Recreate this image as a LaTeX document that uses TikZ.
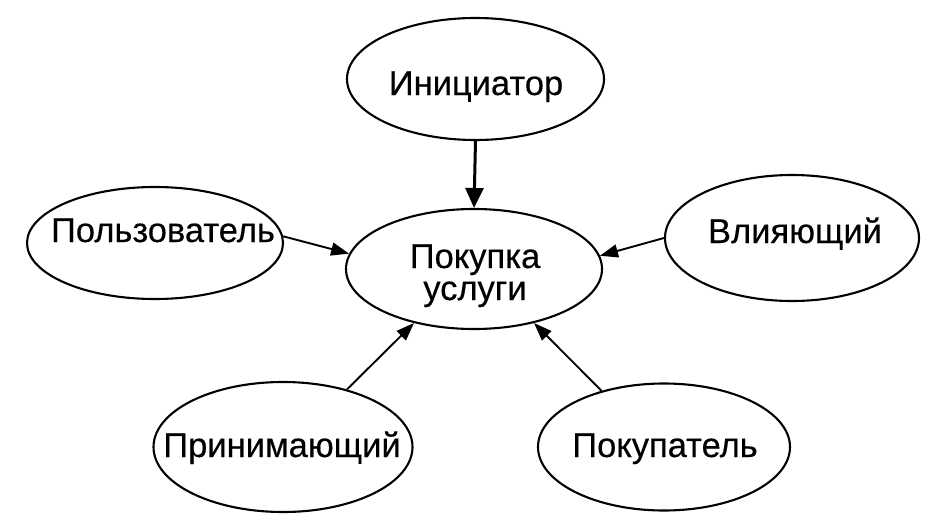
\documentclass[tikz,border=0pt]{standalone}
\usepackage{fontspec}
\setmainfont{Liberation Sans}[FakeBold=0.35]
\usetikzlibrary{shapes.geometric,arrows.meta}
\begin{document}
\begin{tikzpicture}[x=1pt,y=-1pt,
  oval/.style={ellipse,draw,line width=2.1pt,inner sep=0pt},
  lbl/.style={font=\fontsize{34.5}{36}\selectfont,anchor=base,inner sep=0pt},
  thin/.style={line width=1.9pt,-{Triangle[length=18pt,width=13pt]}},
  thick/.style={line width=3pt,-{Triangle[length=20pt,width=18pt]}}]
\useasboundingbox (0,0) rectangle (951,525);
\node[oval,minimum width=257pt,minimum height=122pt] (init) at (475.5,79) {};
\node[lbl] (initt) at (476,95) {Инициатор};
\node[oval,minimum width=256pt,minimum height=120pt] (buy) at (474,269) {};
\node[lbl] (buyt1) at (475,268) {Покупка};
\node[lbl] (buyt2) at (475,300) {услуги};
\node[oval,minimum width=256pt,minimum height=112pt] (pol) at (155,243) {};
\node[lbl] (polt) at (163,242) {Пользователь};
\node[oval,minimum width=254pt,minimum height=126pt] (infl) at (792,238) {};
\node[lbl] (inflt) at (795,243) {Влияющий};
\node[oval,minimum width=259pt,minimum height=130pt] (rec) at (283,447) {};
\node[lbl] (rect) at (282,457) {Принимающий};
\node[oval,minimum width=252pt,minimum height=127pt] (buyer) at (664,447) {};
\node[lbl] (buyert) at (665,457) {Покупатель};
\draw[thick] (init.south) -- (buy.north);
\draw[thin] (pol.3) -- (buy.173);
\draw[thin] (infl.180) -- (buy.6);
\draw[thin] (rec.42) -- (buy.222);
\draw[thin] (buyer.138) -- (buy.318);
\end{tikzpicture}
\end{document}
